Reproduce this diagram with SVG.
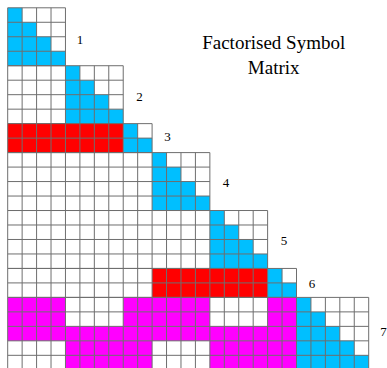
<svg xmlns="http://www.w3.org/2000/svg" width="387" height="368" viewBox="0 0 387 368">
<style>
.b{fill:#00bfff}
.r{fill:#ff0000}
.m{fill:#ff00ff}
.g{fill:none;stroke:#6e6e6e;stroke-width:1;vector-effect:non-scaling-stroke}
.lbl{font-family:"Liberation Serif","Times New Roman",serif;font-size:13px;fill:#000;text-anchor:middle}
.ttl{font-family:"Liberation Serif","Times New Roman",serif;font-size:19px;fill:#000;text-anchor:middle}
</style>
<rect width="387" height="368" fill="#fff"/>
<g id="block1">
<g transform="matrix(14.44 0 0 14.48 7.7 7.8)">
<polygon class="b" points="0,0 1,0 1,1 2,1 2,2 3,2 3,3 4,3 4,4 0,4"/>
<path class="g" d="M0 0H4M0 1H4M0 2H4M0 3H4M0 4H4M0 0V4M1 0V4M2 0V4M3 0V4M4 0V4"/>
</g>
<text class="lbl" x="80" y="43.5">1</text>
</g>
<g id="block2">
<g transform="matrix(14.44 0 0 14.48 7.7 7.8)">
<polygon class="b" points="4,4 5,4 5,5 6,5 6,6 7,6 7,7 8,7 8,8 4,8"/>
<path class="g" d="M0 4H8M0 5H8M0 6H8M0 7H8M0 8H8M0 4V8M1 4V8M2 4V8M3 4V8M4 4V8M5 4V8M6 4V8M7 4V8M8 4V8"/>
</g>
<text class="lbl" x="139.5" y="101">2</text>
</g>
<g id="block3">
<g transform="matrix(14.44 0 0 14.48 7.7 7.8)">
<rect class="r" x="0" y="8" width="8" height="2"/>
<polygon class="b" points="8,8 9,8 9,9 10,9 10,10 8,10"/>
<path class="g" d="M0 8H10M0 9H10M0 10H10M0 8V10M1 8V10M2 8V10M3 8V10M4 8V10M5 8V10M6 8V10M7 8V10M8 8V10M9 8V10M10 8V10"/>
</g>
<text class="lbl" x="167.5" y="141">3</text>
</g>
<g id="block4">
<g transform="matrix(14.44 0 0 14.48 7.7 7.8)">
<polygon class="b" points="10,10 11,10 11,11 12,11 12,12 13,12 13,13 14,13 14,14 10,14"/>
<path class="g" d="M0 10H14M0 11H14M0 12H14M0 13H14M0 14H14M0 10V14M1 10V14M2 10V14M3 10V14M4 10V14M5 10V14M6 10V14M7 10V14M8 10V14M9 10V14M10 10V14M11 10V14M12 10V14M13 10V14M14 10V14"/>
</g>
<text class="lbl" x="226" y="186.5">4</text>
</g>
<g id="block5">
<g transform="matrix(14.44 0 0 14.48 7.7 7.8)">
<polygon class="b" points="14,14 15,14 15,15 16,15 16,16 17,16 17,17 18,17 18,18 14,18"/>
<path class="g" d="M0 14H18M0 15H18M0 16H18M0 17H18M0 18H18M0 14V18M1 14V18M2 14V18M3 14V18M4 14V18M5 14V18M6 14V18M7 14V18M8 14V18M9 14V18M10 14V18M11 14V18M12 14V18M13 14V18M14 14V18M15 14V18M16 14V18M17 14V18M18 14V18"/>
</g>
<text class="lbl" x="284" y="244.5">5</text>
</g>
<g id="block6">
<g transform="matrix(14.44 0 0 14.48 7.7 7.8)">
<rect class="r" x="10" y="18" width="8" height="2"/>
<polygon class="b" points="18,18 19,18 19,19 20,19 20,20 18,20"/>
<path class="g" d="M0 18H20M0 19H20M0 20H20M0 18V20M1 18V20M2 18V20M3 18V20M4 18V20M5 18V20M6 18V20M7 18V20M8 18V20M9 18V20M10 18V20M11 18V20M12 18V20M13 18V20M14 18V20M15 18V20M16 18V20M17 18V20M18 18V20M19 18V20M20 18V20"/>
</g>
<text class="lbl" x="312" y="287.5">6</text>
</g>
<g id="block7">
<g transform="matrix(14.44 0 0 14.48 7.7 7.8)">
<rect class="m" x="0" y="20" width="4" height="2"/>
<rect class="m" x="8" y="20" width="6" height="2"/>
<rect class="m" x="18" y="20" width="2" height="2"/>
<rect class="m" x="0" y="22" width="20" height="1"/>
<rect class="m" x="4" y="23" width="6" height="2"/>
<rect class="m" x="14" y="23" width="6" height="2"/>
<polygon class="b" points="20,20 21,20 21,21 22,21 22,22 23,22 23,23 24,23 24,24 25,24 25,25 20,25"/>
<path class="g" d="M0 20H25M0 21H25M0 22H25M0 23H25M0 24H25M0 25H25M0 20V25M1 20V25M2 20V25M3 20V25M4 20V25M5 20V25M6 20V25M7 20V25M8 20V25M9 20V25M10 20V25M11 20V25M12 20V25M13 20V25M14 20V25M15 20V25M16 20V25M17 20V25M18 20V25M19 20V25M20 20V25M21 20V25M22 20V25M23 20V25M24 20V25M25 20V25"/>
</g>
<text class="lbl" x="383.5" y="336">7</text>
</g>
<g id="title">
<text class="ttl" x="273.7" y="49.3">Factorised Symbol</text>
<text class="ttl" x="273.7" y="73.5">Matrix</text>
</g>
</svg>
